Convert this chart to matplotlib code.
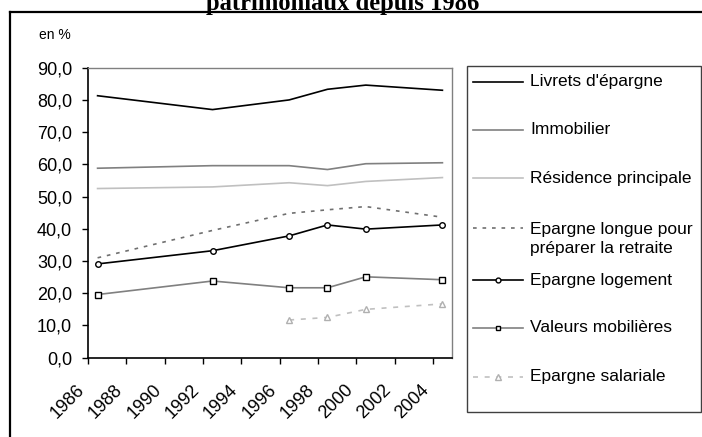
import matplotlib
matplotlib.use("Agg")
import matplotlib.pyplot as plt
from matplotlib.lines import Line2D
from matplotlib.patches import Rectangle

plt.rcParams['font.family'] = ['Liberation Sans', 'DejaVu Sans']

# ---------------- data ----------------
years_all = [1986, 1992, 1996, 1998, 2000, 2004]
years_sal = [1996, 1998, 2000, 2004]

livrets = [81.3, 77.0, 80.0, 83.3, 84.6, 83.0]
immobilier = [58.8, 59.6, 59.6, 58.4, 60.2, 60.5]
residence = [52.5, 53.0, 54.3, 53.4, 54.7, 55.9]
ep_longue = [31.0, 39.5, 44.8, 45.9, 46.9, 43.6]
ep_logement = [29.1, 33.2, 37.8, 41.2, 39.9, 41.2]
valeurs = [19.6, 23.8, 21.7, 21.7, 25.1, 24.2]
ep_salariale = [11.7, 12.5, 15.0, 16.7]

labels = ["Livrets d'épargne", "Immobilier", "Résidence principale",
          "Epargne longue pour\npréparer la retraite", "Epargne logement",
          "Valeurs mobilières", "Epargne salariale"]

y_ticks = [0, 10, 20, 30, 40, 50, 60, 70, 80, 90]
y_ticklabels = ["0,0", "10,0", "20,0", "30,0", "40,0", "50,0", "60,0", "70,0", "80,0", "90,0"]
x_ticks = [1986, 1988, 1990, 1992, 1994, 1996, 1998, 2000, 2002, 2004]
x_ticklabels = [str(v) for v in x_ticks]

title = "patrimoniaux depuis 1986"
unit_label = "en %"

# ---------------- figure ----------------
W, H = 702, 437
fig = plt.figure(figsize=(W / 100, H / 100), dpi=100)

def fx(px):
    return px / W

def fy(py):
    return 1 - py / H

ax_l, ax_r, ax_t, ax_b = 88, 452, 67.7, 357.7
ax = fig.add_axes([fx(ax_l), fy(ax_b), fx(ax_r - ax_l), (ax_b - ax_t) / H])

mid = 0.5  # Excel date axis: points centred on the year
xs_all = [y + mid for y in years_all]
xs_sal = [y + mid for y in years_sal]

styles = [
    dict(color='black', lw=1.2),
    dict(color='#808080', lw=1.2),
    dict(color='#c0c0c0', lw=1.2),
    dict(color='#707070', lw=1.2, linestyle=(0, (2.2, 3.5))),
    dict(color='black', lw=1.2, marker='o', ms=4, mfc='white', mec='black', mew=1.0),
    dict(color='#808080', lw=1.2, marker='s', ms=4, mfc='white', mec='black', mew=1.0),
    dict(color='#c0c0c0', lw=1.2, linestyle=(0, (3, 4)), marker='^', ms=5, mfc='white', mec='#b0b0b0', mew=1.0),
]

series = [(xs_all, livrets), (xs_all, immobilier), (xs_all, residence),
          (xs_all, ep_longue), (xs_all, ep_logement), (xs_all, valeurs),
          (xs_sal, ep_salariale)]

for (xs, ys), st in zip(series, styles):
    ax.plot(xs, ys, **st, clip_on=False)

ax.set_xlim(1986, 2005)
ax.set_ylim(0, 90)
ax.set_yticks(y_ticks)
ax.set_yticklabels(y_ticklabels, fontsize=13)
ax.set_xticks(x_ticks)
ax.set_xticklabels(x_ticklabels, fontsize=13, rotation=45, ha='right', va='top')
ax.tick_params(axis='y', direction='out', length=4, width=1, pad=7.5)
ax.tick_params(axis='x', direction='out', length=4, width=1, pad=13)
for s in ['left', 'bottom']:
    ax.spines[s].set_color('black')
    ax.spines[s].set_linewidth(1.2)
for s in ['top', 'right']:
    ax.spines[s].set_color('#808080')
    ax.spines[s].set_linewidth(1.0)

# unit label
fig.text(fx(39), fy(35), unit_label, fontsize=10, ha='left', va='center')

# title (its upper part lies above the picture, as in the reference)
fig.text(fx(343), fy(10), title, fontsize=17.7, fontweight='bold',
         family=['Liberation Serif', 'DejaVu Serif'], ha='center', va='baseline')

# outer frame (top and left edges)
fig.add_artist(Line2D([fx(10), fx(702)], [fy(12), fy(12)], color='black', lw=1.6))
fig.add_artist(Line2D([fx(10), fx(10)], [fy(12), fy(437)], color='black', lw=1.6))

# legend box
fig.add_artist(Rectangle((fx(467), fy(412)), fx(701 - 467), (412 - 66) / H,
                         facecolor='white', edgecolor='#404040', lw=1.0,
                         transform=fig.transFigure))
entry_y = [81.7, 130, 178.3, 228, 280, 328, 376.7]
for lab, st, py in zip(labels, styles, entry_y):
    st_line = {k: v for k, v in st.items() if k not in ('marker', 'ms', 'mfc', 'mec', 'mew')}
    fig.add_artist(Line2D([fx(473), fx(523)], [fy(py), fy(py)], **st_line))
    if 'marker' in st:
        fig.add_artist(Line2D([fx(498)], [fy(py)], linestyle='none',
                              marker=st['marker'], ms=st['ms'] - 0.5,
                              mfc=st['mfc'], mec=st['mec'], mew=st['mew']))
    if '\n' in lab:
        # first line centred on the handle, second line below it
        fig.text(fx(530), fy(py + 11), lab, fontsize=12.5, ha='left', va='center',
                 linespacing=1.27)
    else:
        fig.text(fx(530), fy(py), lab, fontsize=12.5, ha='left', va='center')

fig.savefig("out.png", dpi=100)
